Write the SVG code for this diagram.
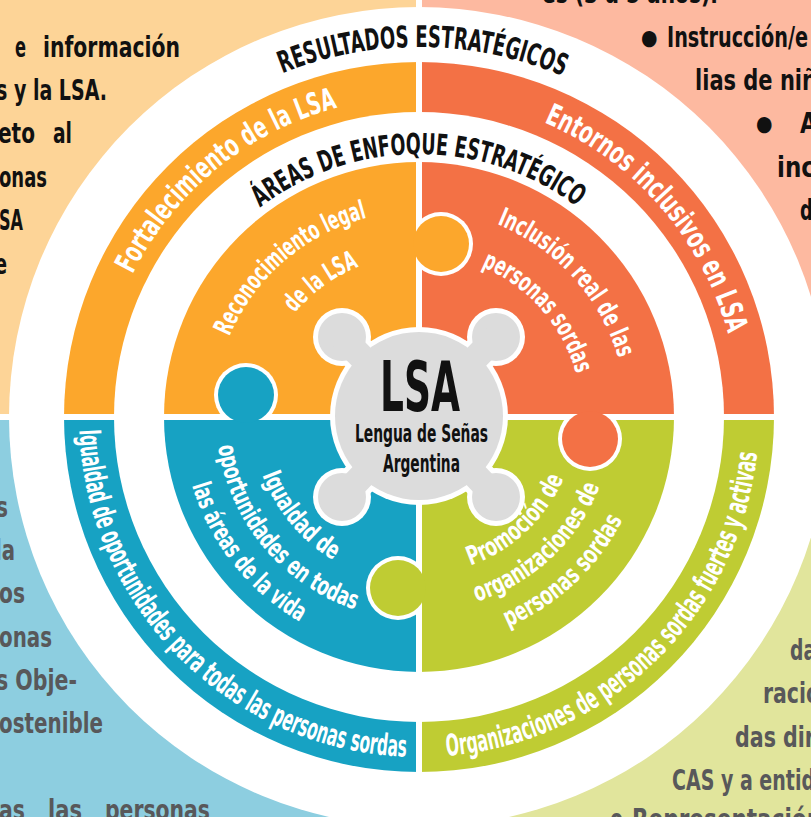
<svg xmlns="http://www.w3.org/2000/svg" width="811" height="817" viewBox="0 0 811 817">
<style>
.t{font-family:"Liberation Sans Narrow","DejaVu Sans Condensed","Liberation Sans",sans-serif;font-weight:700;}
.dk{fill:#111;}
.gy{fill:#58585a;}
.wt{fill:#fff;}
.c29{font-size:29px;}
.band{font-size:30px;}
.pz{font-size:26px;}
.halo{fill:#fff;}
</style>
<defs>
<clipPath id="cR"><rect x="416" y="0" width="395" height="417"/></clipPath>
<clipPath id="cU"><rect x="0" y="0" width="416" height="420"/></clipPath>
<clipPath id="cD"><rect x="422" y="414" width="389" height="403"/></clipPath>
<clipPath id="cL"><rect x="0" y="420" width="422" height="397"/></clipPath>
<path id="pRes" d="M282.2,73.2 A370,370 0 0 1 563.0,76.2"/>
<path id="pAreas" d="M260.0,207.5 A263,263 0 0 1 576.9,206.7"/>
<path id="pFort" d="M132.6,274.2 A320,320 0 0 1 337.3,107.6"/>
<path id="pEnt" d="M544.0,122.4 A320,320 0 0 1 728.1,334.2"/>
<path id="pIg" d="M79.3,430.1 A340,340 0 0 0 406.5,756.8"/>
<path id="pOrg" d="M446.9,755.9 A340,340 0 0 0 757.1,453.1"/>
<path id="pO1" d="M229.4,336.5 A206,206 0 0 1 366.4,217.8"/>
<path id="pO2" d="M294.7,313.1 A162,162 0 0 1 358.8,266.6"/>
<path id="pR1" d="M496.9,224.1 A208,208 0 0 1 618.3,357.6"/>
<path id="pR2" d="M481.6,266.5 A163,163 0 0 1 576.1,373.4"/>
<path id="pB1" d="M262.4,474.9 A167,167 0 0 0 333.2,560.3"/>
<path id="pB2" d="M218.1,446.3 A203,203 0 0 0 354.3,609.4"/>
<path id="pB3" d="M192.1,485.5 A237,237 0 0 0 299.4,621.6"/>
<path id="pG1" d="M470.4,565.4 A157,157 0 0 0 563.3,478.8"/>
<path id="pG2" d="M476.9,601.6 A193.5,193.5 0 0 0 599.6,486.3"/>
<path id="pG3" d="M508.1,626.9 A228,228 0 0 0 622.5,519.8"/>
</defs>

<g id="background">
<rect x="0" y="0" width="811" height="817" fill="#fff"/>
<rect x="0" y="0" width="416" height="414" fill="#fdd497"/>
<rect x="422" y="0" width="389" height="414" fill="#fdb9a0"/>
<rect x="0" y="420" width="416" height="397" fill="#8dcee0"/>
<rect x="422" y="420" width="389" height="397" fill="#e1e59c"/>
</g>

<g id="corner-text-top-left" class="t c29 dk">
<text x="15" y="57" textLength="11" lengthAdjust="spacingAndGlyphs">e</text>
<text x="43" y="57" textLength="137" lengthAdjust="spacingAndGlyphs">información</text>
<text x="-4" y="100" textLength="111" lengthAdjust="spacingAndGlyphs">s y la LSA.</text>
<text x="-2" y="143" textLength="37" lengthAdjust="spacingAndGlyphs">eto</text>
<text x="53" y="143" textLength="19" lengthAdjust="spacingAndGlyphs">al</text>
<text x="-1" y="187" textLength="48" lengthAdjust="spacingAndGlyphs">onas</text>
<text x="-1" y="230" textLength="24" lengthAdjust="spacingAndGlyphs">SA</text>
<text x="-5" y="274" textLength="12" lengthAdjust="spacingAndGlyphs">e</text>
</g>

<g id="corner-text-top-right" class="t c29 dk">
<text x="542" y="3" textLength="176" lengthAdjust="spacingAndGlyphs">es (3 a 5 años).</text>
<text x="636" y="56" font-size="46">•</text>
<text x="667" y="47" textLength="141" lengthAdjust="spacingAndGlyphs">Instrucción/e</text>
<text x="695" y="90" textLength="122" lengthAdjust="spacingAndGlyphs">lias de niñ</text>
<text x="751" y="142" font-size="46">•</text>
<text x="800" y="133" textLength="17" lengthAdjust="spacingAndGlyphs">A</text>
<text x="777" y="177" textLength="38" lengthAdjust="spacingAndGlyphs">inc</text>
<text x="800" y="220" textLength="13" lengthAdjust="spacingAndGlyphs">d</text>
</g>

<g id="corner-text-bottom-left" class="t c29 gy">
<text x="-4" y="517" textLength="12" lengthAdjust="spacingAndGlyphs">s</text>
<text x="-5" y="560" textLength="20" lengthAdjust="spacingAndGlyphs">la</text>
<text x="-1" y="603" textLength="26" lengthAdjust="spacingAndGlyphs">os</text>
<text x="-1" y="647" textLength="53" lengthAdjust="spacingAndGlyphs">onas</text>
<text x="-4" y="690" textLength="81" lengthAdjust="spacingAndGlyphs">s Obje-</text>
<text x="-1" y="733" textLength="104" lengthAdjust="spacingAndGlyphs">ostenible</text>
<text x="-1" y="820" textLength="26" lengthAdjust="spacingAndGlyphs">as</text>
<text x="48" y="820" textLength="34" lengthAdjust="spacingAndGlyphs">las</text>
<text x="105" y="820" textLength="105" lengthAdjust="spacingAndGlyphs">personas</text>
</g>

<g id="corner-text-bottom-right" class="t c29 gy">
<text x="790" y="660" textLength="26" lengthAdjust="spacingAndGlyphs">da</text>
<text x="763" y="703" textLength="57" lengthAdjust="spacingAndGlyphs">racio</text>
<text x="735" y="747" textLength="80" lengthAdjust="spacingAndGlyphs">das dir</text>
<text x="672" y="790" textLength="143" lengthAdjust="spacingAndGlyphs">CAS y a entid</text>
<text x="610" y="829" textLength="13" lengthAdjust="spacingAndGlyphs">o</text>
<text x="632" y="829" textLength="190" lengthAdjust="spacingAndGlyphs">Representación</text>
</g>

<g id="outer-ring">
<circle cx="419" cy="417" r="410" fill="#fff"/>
<path d="M419,417 L64,417 A355,355 0 0 1 419,62 Z" fill="#fca72c"/>
<path d="M419,417 L419,62 A355,355 0 0 1 774,417 Z" fill="#f37145"/>
<path d="M419,417 L774,417 A355,355 0 0 1 419,772 Z" fill="#bfcc33"/>
<path d="M419,417 L419,772 A355,355 0 0 1 64,417 Z" fill="#17a2c3"/>
<circle cx="419" cy="417" r="305" fill="#fff"/>
</g>

<g id="puzzle">
<path d="M419,417 L164,417 A255,255 0 0 1 419,162 Z" fill="#fca72c"/>
<path d="M419,417 L419,162 A255,255 0 0 1 674,417 Z" fill="#f37145"/>
<path d="M419,417 L674,417 A255,255 0 0 1 419,672 Z" fill="#bfcc33"/>
<path d="M419,417 L419,672 A255,255 0 0 1 164,417 Z" fill="#17a2c3"/>
</g>

<g id="split-lines" fill="#fff">
<rect x="416" y="0" width="6" height="817"/>
<rect x="0" y="414" width="811" height="6"/>
</g>

<g id="knobs">
<circle class="halo" cx="441" cy="244" r="32" clip-path="url(#cR)"/>
<circle class="halo" cx="246" cy="395" r="32" clip-path="url(#cU)"/>
<circle class="halo" cx="590" cy="439" r="32" clip-path="url(#cD)"/>
<circle class="halo" cx="398" cy="588" r="32" clip-path="url(#cL)"/>
<circle cx="441" cy="244" r="28" fill="#fca72c"/>
<circle cx="246" cy="395" r="28" fill="#17a2c3"/>
<circle cx="590" cy="439" r="28" fill="#f37145"/>
<circle cx="398" cy="588" r="28" fill="#bfcc33"/>
</g>

<g id="node-lsa">
<g fill="#fff" stroke="#fff">
<circle cx="419" cy="416" r="89" stroke="none"/>
<circle cx="342" cy="337" r="29" stroke="none"/>
<circle cx="496" cy="337" r="29" stroke="none"/>
<circle cx="342" cy="497" r="29" stroke="none"/>
<circle cx="496" cy="497" r="29" stroke="none"/>
<path d="M419,416 L342,337 M419,416 L496,337 M419,416 L342,497 M419,416 L496,497" stroke-width="36" fill="none"/>
</g>
<g fill="#dcdcdc" stroke="#dcdcdc">
<circle cx="419" cy="416" r="84" stroke="none"/>
<circle cx="342" cy="337" r="24" stroke="none"/>
<circle cx="496" cy="337" r="24" stroke="none"/>
<circle cx="342" cy="497" r="24" stroke="none"/>
<circle cx="496" cy="497" r="24" stroke="none"/>
<path d="M419,416 L342,337 M419,416 L496,337 M419,416 L342,497 M419,416 L496,497" stroke-width="26" fill="none"/>
</g>
<text class="t dk" x="420" y="411" font-size="70" text-anchor="middle" textLength="80" lengthAdjust="spacingAndGlyphs">LSA</text>
<text class="t dk" x="421.5" y="442" font-size="25" text-anchor="middle" textLength="133" lengthAdjust="spacingAndGlyphs">Lengua de Señas</text>
<text class="t dk" x="421.5" y="472" font-size="25" text-anchor="middle" textLength="77" lengthAdjust="spacingAndGlyphs">Argentina</text>
</g>

<g id="ring-labels" class="t">
<text class="dk" font-size="30"><textPath href="#pRes" textLength="288" lengthAdjust="spacingAndGlyphs">RESULTADOS ESTRATÉGICOS</textPath></text>
<text class="dk" font-size="29"><textPath href="#pAreas" textLength="340" lengthAdjust="spacingAndGlyphs">ÁREAS DE ENFOQUE ESTRATÉGICO</textPath></text>
</g>

<g id="node-fortalecimiento" class="t wt band">
<text><textPath href="#pFort" textLength="272" lengthAdjust="spacingAndGlyphs">Fortalecimiento de la LSA</textPath></text>
</g>
<g id="node-entornos" class="t wt band">
<text><textPath href="#pEnt" textLength="290" lengthAdjust="spacingAndGlyphs">Entornos inclusivos en LSA</textPath></text>
</g>
<g id="node-igualdad-band" class="t wt band">
<text><textPath href="#pIg" textLength="508" lengthAdjust="spacingAndGlyphs">Igualdad de oportunidades para todas las personas sordas</textPath></text>
</g>
<g id="node-organizaciones-band" class="t wt band">
<text><textPath href="#pOrg" textLength="470" lengthAdjust="spacingAndGlyphs">Organizaciones de personas sordas fuertes y activas</textPath></text>
</g>

<g id="node-reconocimiento" class="t wt pz">
<text><textPath href="#pO1" textLength="188" lengthAdjust="spacingAndGlyphs">Reconocimiento legal</textPath></text>
<text><textPath href="#pO2" textLength="80" lengthAdjust="spacingAndGlyphs">de la LSA</textPath></text>
</g>
<g id="node-inclusion" class="t wt pz">
<text><textPath href="#pR1" textLength="187" lengthAdjust="spacingAndGlyphs">Inclusión real de las</textPath></text>
<text><textPath href="#pR2" textLength="148" lengthAdjust="spacingAndGlyphs">personas sordas</textPath></text>
</g>
<g id="node-igualdad" class="t wt pz">
<text><textPath href="#pB1" textLength="113" lengthAdjust="spacingAndGlyphs">Igualdad de</textPath></text>
<text><textPath href="#pB2" textLength="224" lengthAdjust="spacingAndGlyphs">oportunidades en todas</textPath></text>
<text><textPath href="#pB3" textLength="178" lengthAdjust="spacingAndGlyphs">las áreas de la vida</textPath></text>
</g>
<g id="node-promocion" class="t wt pz">
<text><textPath href="#pG1" textLength="131" lengthAdjust="spacingAndGlyphs">Promoción de</textPath></text>
<text><textPath href="#pG2" textLength="174" lengthAdjust="spacingAndGlyphs">organizaciones de</textPath></text>
<text><textPath href="#pG3" textLength="160" lengthAdjust="spacingAndGlyphs">personas sordas</textPath></text>
</g>
</svg>
